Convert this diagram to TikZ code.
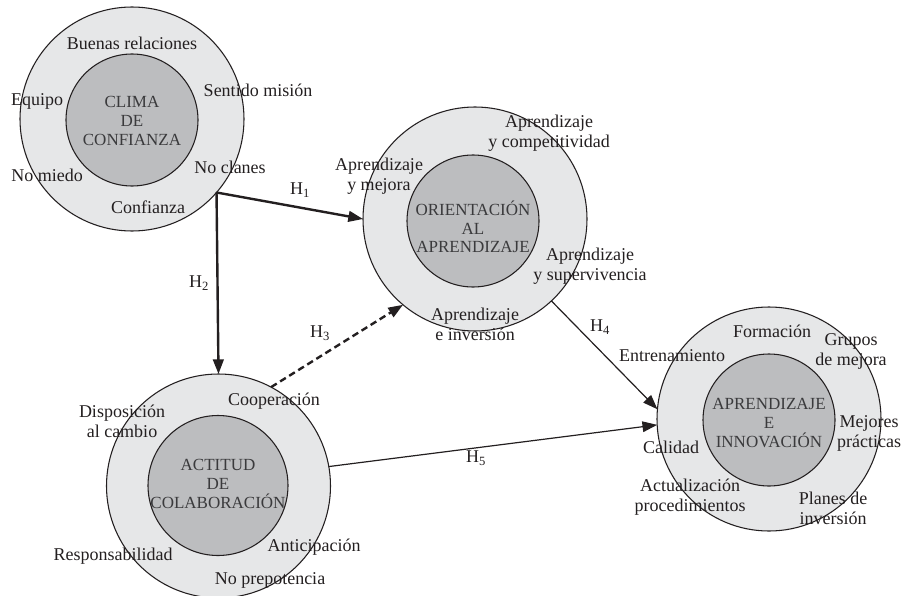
\documentclass[tikz,border=0pt]{standalone}
\usepackage{fontspec}
\setmainfont{Liberation Serif}
\usetikzlibrary{arrows.meta}
\definecolor{outerfill}{HTML}{E6E7E8}
\definecolor{innerfill}{HTML}{BCBDBF}
\definecolor{labtext}{HTML}{231F20}
\definecolor{coretext}{HTML}{3A3A3C}
\definecolor{edge}{HTML}{231F20}
\begin{document}
\begin{tikzpicture}[x=0.75pt,y=-0.75pt,
  outerring/.style={circle,draw=edge,line width=0.8pt,fill=outerfill,minimum size=168pt,inner sep=0pt,outer sep=0pt},
  innerdisc/.style={circle,draw=edge,line width=0.8pt,fill=innerfill,minimum size=#1,inner sep=0pt,outer sep=0pt},
  core/.style={align=center,font=\fontsize{12.75}{14}\selectfont,text=coretext,inner sep=0pt},
  lab/.style={align=center,font=\fontsize{13.5}{15}\selectfont,text=labtext,inner sep=0pt},
  hyp/.style={font=\fontsize{13.5}{15}\selectfont,text=labtext,inner sep=0pt},
  strongarrow/.style={draw=edge,line width=1.8pt,-{Triangle[length=11pt,width=8pt]}},
  dasharrow/.style={draw=edge,line width=1.8pt,dash pattern=on 5pt off 3pt,-{Triangle[length=11pt,width=8pt]}},
  thinarrow/.style={draw=edge,line width=0.9pt,-{Triangle[length=11pt,width=8pt]}}
]
\useasboundingbox (0,0) rectangle (903,596);
% circles
\node[outerring] (c1) at (132,119) {};
\node[innerdisc=99pt] (i1) at (132,120) {};
\node[outerring] (c2) at (475,219) {};
\node[innerdisc=99pt] (i2) at (473,221) {};
\node[outerring] (c3) at (218.5,486) {};
\node[innerdisc=105pt] (i3) at (218,485.5) {};
\node[outerring] (c4) at (769,419) {};
\node[innerdisc=99pt] (i4) at (769,420) {};
% core texts
\node[core] (t1) at (132,121) {CLIMA\\DE\\CONFIANZA};
\node[core] (t2) at (473,227) {ORIENTACIÓN\\AL\\APRENDIZAJE};
\node[core] (t3) at (218,484) {ACTITUD\\DE\\COLABORACIÓN};
\node[core] (t4) at (769,423) {APRENDIZAJE\\E\\INNOVACIÓN};
% circle 1 labels
\node[lab] (a1) at (132,43) {Buenas relaciones};
\node[lab] (a2) at (258,90) {Sentido misión};
\node[lab] (a3) at (37,101) {Equipo};
\node[lab] (a4) at (230,167) {No clanes};
\node[lab] (a5) at (47,175) {No miedo};
\node[lab] (a6) at (148,207) {Confianza};
% circle 2 labels
\node[lab] (b1) at (549,133) {Aprendizaje\\y competitividad};
\node[lab] (b2) at (379,176) {Aprendizaje\\y mejora};
\node[lab] (b3) at (590,266) {Aprendizaje\\y supervivencia};
\node[lab] (b4) at (475,324) {Aprendizaje\\e inversión};
% circle 3 labels
\node[lab] (d1) at (274,401) {Cooperación};
\node[lab] (d2) at (122,421) {Disposición\\al cambio};
\node[lab] (d3) at (113,556) {Responsabilidad};
\node[lab] (d4) at (314,547) {Anticipación};
\node[lab] (d5) at (270,580) {No prepotencia};
% circle 4 labels
\node[lab] (e1) at (772,331) {Formación};
\node[lab] (e2) at (851,351) {Grupos\\de mejora};
\node[lab] (e3) at (672,356) {Entrenamiento};
\node[lab] (e4) at (869,433) {Mejores\\prácticas};
\node[lab] (e5) at (671,447) {Calidad};
\node[lab] (e6) at (690,497) {Actualización\\procedimientos};
\node[lab] (e7) at (833,508) {Planes de\\inversión};
% connectors
\coordinate (j) at (c1.-41);
\draw[strongarrow] (j) -- (c2.west);
\draw[strongarrow] (j) -- (c3.north);
\draw[dasharrow] (c3.62) -- (c2.230);
\draw[thinarrow] (c2.-47) -- (c4.175);
\draw[thinarrow] (c3.10) -- (c4.183);
% hypothesis labels
\node[hyp] (h1) at (300,190) {H\textsubscript{1}};
\node[hyp] (h2) at (199,283) {H\textsubscript{2}};
\node[hyp] (h3) at (320,333) {H\textsubscript{3}};
\node[hyp] (h4) at (600,327) {H\textsubscript{4}};
\node[hyp] (h5) at (476,458) {H\textsubscript{5}};
\end{tikzpicture}
\end{document}
